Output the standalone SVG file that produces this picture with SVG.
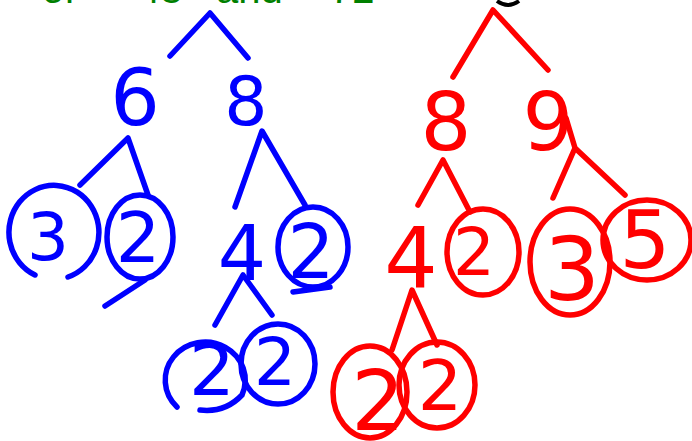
<svg xmlns="http://www.w3.org/2000/svg" width="692" height="441" viewBox="0 0 692 441">
<style>
.b{stroke:#0000ff;fill:none;stroke-width:5.5;stroke-linecap:round;stroke-linejoin:round}
.r{stroke:#ff0000;fill:none;stroke-width:5.5;stroke-linecap:round;stroke-linejoin:round}
.tb{fill:#0000ff;font-family:"DejaVu Sans","Liberation Sans",sans-serif;text-anchor:middle}
.tr{fill:#ff0000;font-family:"DejaVu Sans","Liberation Sans",sans-serif;text-anchor:middle}
.g{fill:#008000;font-family:"Liberation Sans",sans-serif;font-size:40px}
</style>
<rect width="692" height="441" fill="#ffffff"/>
<g id="title">
<text class="g" x="42" y="3">of</text>
<text class="g" x="138" y="3">48</text>
<text class="g" x="216" y="3">and</text>
<text class="g" x="330" y="3">72</text>
<path d="M497 1 Q508 9 519 1" stroke="#000" stroke-width="4" fill="none"/>
</g>
<g id="connectors">
<path class="b" d="M170 56 L210 13 L248 58"/>
<path class="b" d="M80 185 L128 138 L148 195"/>
<path class="b" d="M235 207 L262 131 L305 205"/>
<path class="b" d="M215 325 L243 275 L272 315"/>
<path class="r" d="M453 77 L493 10 L548 70"/>
<path class="r" d="M418 205 L443 160 L470 212"/>
<path class="r" d="M566 118 L575 148 M553 198 L575 148 L625 195"/>
<path class="r" d="M392 350 L412 290 L437 345"/>
</g>
<g id="n48-6"><text class="tb" x="135" y="125" font-size="78">6</text></g>
<g id="n48-8"><text class="tb" x="246" y="125" font-size="68">8</text></g>
<g id="n48-3"><path class="b" d="M35 275 A45 47 0 1 1 68 277"/><text class="tb" x="48" y="260" font-size="66">3</text></g>
<g id="n48-2a"><ellipse class="b" cx="140" cy="237" rx="33" ry="42"/><path class="b" d="M145 280 L105 306"/><text class="tb" x="138" y="262" font-size="70">2</text></g>
<g id="n48-4"><text class="tb" x="242" y="280" font-size="76">4</text></g>
<g id="n48-2b"><ellipse class="b" cx="313" cy="247" rx="35" ry="40"/><path class="b" d="M293 292 L330 287"/><text class="tb" x="311" y="278" font-size="74">2</text></g>
<g id="n48-2c"><path class="b" d="M177 407 A40 38 0 1 1 242 395 Q225 413 200 410"/><text class="tb" x="212" y="395" font-size="72">2</text></g>
<g id="n48-2d"><ellipse class="b" cx="278" cy="364" rx="37" ry="40"/><text class="tb" x="275" y="385" font-size="66">2</text></g>
<g id="n72-8"><text class="tr" x="446" y="150" font-size="80">8</text></g>
<g id="n72-9"><text class="tr" x="548" y="150" font-size="80">9</text></g>
<g id="n72-4"><text class="tr" x="411" y="287" font-size="84">4</text></g>
<g id="n72-2a"><ellipse class="r" cx="483" cy="252" rx="36" ry="43"/><text class="tr" x="474" y="275" font-size="66">2</text></g>
<g id="n72-3"><ellipse class="r" cx="570" cy="262" rx="40" ry="53"/><text class="tr" x="572" y="300" font-size="88">3</text></g>
<g id="n72-5"><ellipse class="r" cx="647" cy="240" rx="44" ry="40"/><text class="tr" x="645" y="268" font-size="80">5</text></g>
<g id="n72-2b"><ellipse class="r" cx="370" cy="392" rx="37" ry="46"/><text class="tr" x="378" y="430" font-size="84">2</text></g>
<g id="n72-2c"><ellipse class="r" cx="437" cy="385" rx="38" ry="43"/><text class="tr" x="440" y="410" font-size="70">2</text></g>
</svg>
